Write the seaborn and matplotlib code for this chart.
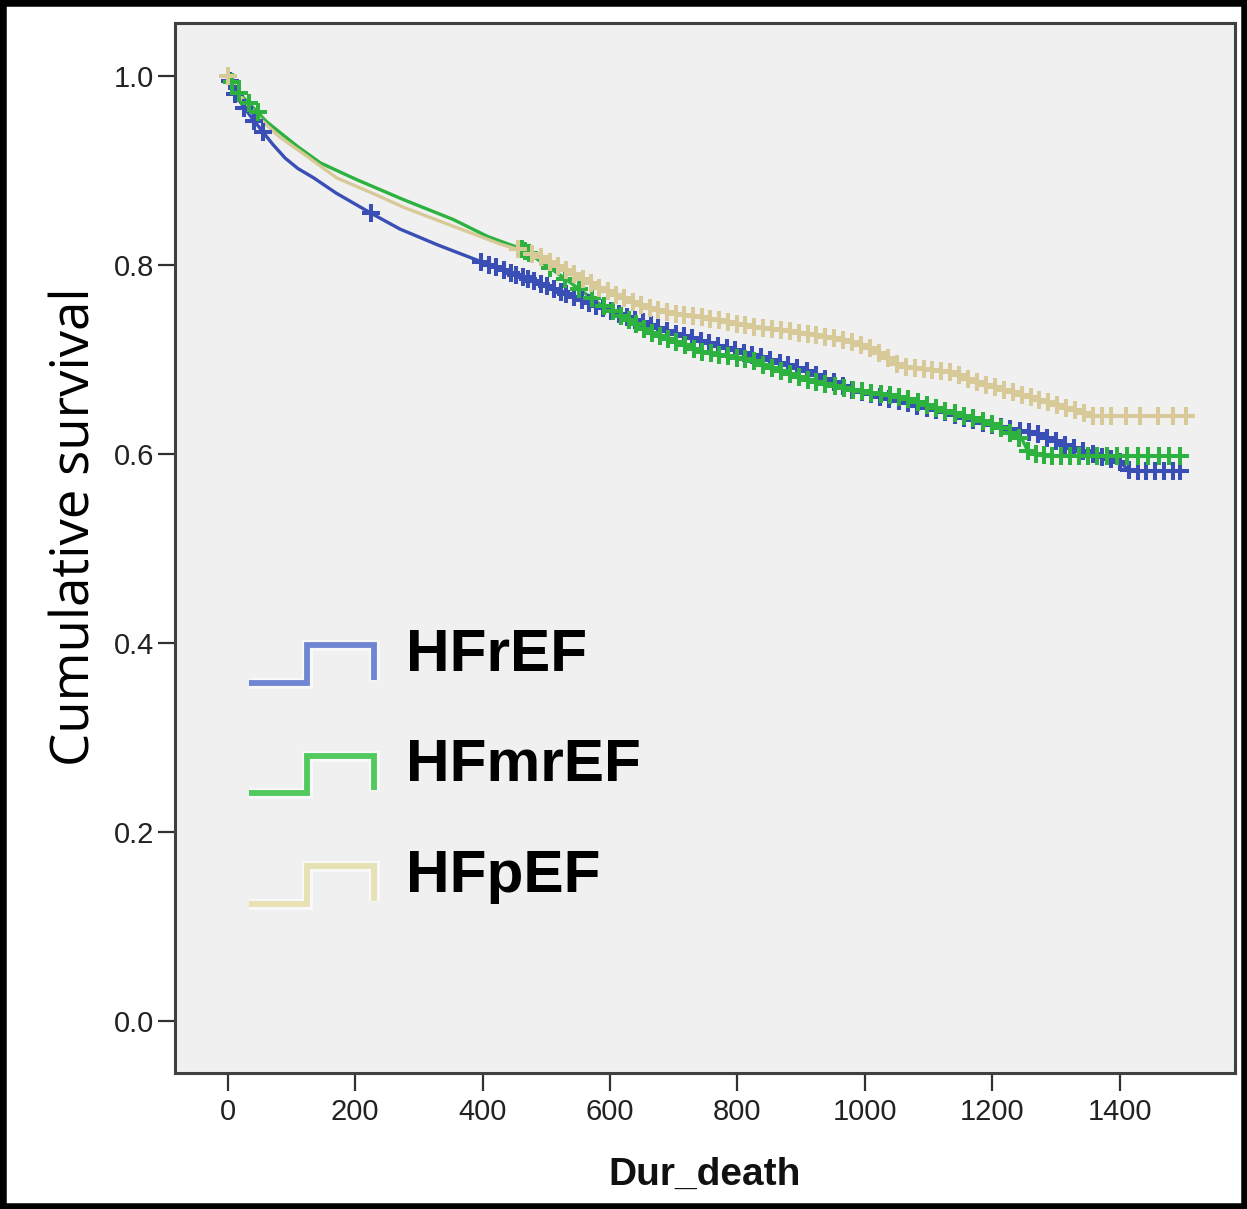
import numpy as np
import pandas as pd
import matplotlib
matplotlib.use("Agg")
import matplotlib.pyplot as plt
import seaborn as sns
from matplotlib.legend_handler import HandlerBase
from matplotlib.lines import Line2D
from matplotlib.patches import Rectangle
import matplotlib.patheffects as pe

# ---------------- data ----------------
groups = ["HFrEF", "HFmrEF", "HFpEF"]

hfref_time = [0, 8, 20, 35, 50, 70, 90, 110, 135, 170, 224, 270, 330, 380, 430, 480, 530,
              585, 640, 700, 760, 822, 900, 979, 1058, 1120, 1200, 1266, 1320, 1372, 1400,
              1415, 1495]
hfref_surv = [1.0, 0.985, 0.972, 0.958, 0.945, 0.928, 0.913, 0.902, 0.892, 0.876, 0.855,
              0.838, 0.821, 0.808, 0.795, 0.783, 0.770, 0.755, 0.742, 0.728, 0.716, 0.705,
              0.690, 0.668, 0.655, 0.645, 0.630, 0.622, 0.608, 0.597, 0.592, 0.582, 0.582]
hfref_censor = [3, 12, 26, 41, 55, 224, 398, 410, 421, 433, 444, 452, 463, 471, 480, 492,
                501, 512, 523, 531, 544, 556, 567, 578, 589, 601, 614, 626, 639, 651, 664,
                676, 689, 703, 716, 729, 742, 755, 769, 783, 796, 810, 823, 837, 851, 866,
                880, 894, 909, 923, 937, 951, 966, 980, 995, 1009, 1024, 1038, 1053, 1068,
                1082, 1097, 1112, 1126, 1141, 1156, 1170, 1185, 1199, 1214, 1228, 1243,
                1257, 1271, 1286, 1300, 1314, 1329, 1343, 1358, 1372, 1386, 1400, 1414,
                1428, 1442, 1456, 1470, 1484, 1494]

hfmref_time = [0, 10, 20, 39, 60, 82, 110, 145, 203, 276, 354, 408, 465, 520, 585, 660,
               743, 822, 900, 979, 1058, 1120, 1200, 1247, 1258, 1300, 1495]
hfmref_surv = [1.0, 0.990, 0.980, 0.967, 0.952, 0.940, 0.925, 0.908, 0.890, 0.869, 0.848,
               0.830, 0.816, 0.790, 0.758, 0.730, 0.708, 0.699, 0.680, 0.668, 0.660, 0.647,
               0.632, 0.615, 0.600, 0.598, 0.598]
hfmref_censor = [6, 18, 33, 47, 462, 467, 473, 505, 530, 552, 571, 590, 604, 617, 629, 641,
                 653, 666, 679, 691, 704, 717, 731, 744, 758, 771, 785, 799, 812, 826, 840,
                 854, 868, 882, 896, 910, 924, 938, 953, 967, 981, 996, 1010, 1025, 1039,
                 1054, 1068, 1083, 1097, 1112, 1126, 1141, 1156, 1170, 1185, 1199, 1214,
                 1228, 1242, 1256, 1268, 1281, 1294, 1308, 1322, 1336, 1350, 1365, 1380,
                 1396, 1412, 1428, 1445, 1462, 1478, 1494]

hfpef_time = [0, 20, 50, 80, 118, 171, 230, 276, 330, 381, 428, 486, 540, 585, 650, 700,
              743, 822, 900, 960, 1006, 1040, 1058, 1137, 1180, 1216, 1294, 1357, 1504]
hfpef_surv = [1.0, 0.978, 0.955, 0.936, 0.918, 0.892, 0.875, 0.861, 0.847, 0.834, 0.822,
              0.810, 0.792, 0.775, 0.757, 0.748, 0.745, 0.735, 0.728, 0.722, 0.713, 0.700,
              0.692, 0.686, 0.675, 0.668, 0.654, 0.640, 0.640]
hfpef_censor = [0, 455, 478, 492, 506, 519, 531, 544, 557, 570, 583, 596, 609, 622, 636,
                649, 662, 676, 689, 703, 716, 730, 744, 757, 771, 785, 799, 812, 826, 840,
                854, 868, 882, 896, 910, 924, 938, 952, 966, 980, 994, 1008, 1022, 1036,
                1050, 1064, 1078, 1092, 1106, 1120, 1134, 1148, 1162, 1176, 1190, 1204,
                1218, 1232, 1246, 1260, 1274, 1288, 1302, 1316, 1330, 1344, 1358, 1372,
                1386, 1410, 1432, 1460, 1484, 1504]

x_ticks = [0, 200, 400, 600, 800, 1000, 1200, 1400]
y_ticks = [0.0, 0.2, 0.4, 0.6, 0.8, 1.0]

series = {
    "HFrEF": (hfref_time, hfref_surv, hfref_censor),
    "HFmrEF": (hfmref_time, hfmref_surv, hfmref_censor),
    "HFpEF": (hfpef_time, hfpef_surv, hfpef_censor),
}

colors = {"HFrEF": "#3a4fb5", "HFmrEF": "#2db23f", "HFpEF": "#d8ca98"}
legend_colors = {"HFrEF": "#7086d2", "HFmrEF": "#52c95f", "HFpEF": "#e6e2b4"}

# ---------------- style ----------------
sns.set_theme(style="white")
plt.rcParams["font.family"] = ["Liberation Sans", "DejaVu Sans"]

fig = plt.figure(figsize=(12.47, 12.09), dpi=100)
ax = fig.add_axes([0.1403, 0.1125, 0.8501, 0.8685])
ax.set_facecolor("#f0f0f0")

for g in groups:
    t, s, c = series[g]
    line_df = pd.DataFrame({"time": t, "surv": s})
    sns.lineplot(data=line_df, x="time", y="surv", color=colors[g], linewidth=2.4,
                 estimator=None, sort=False, ax=ax, zorder=2)
    cens_df = pd.DataFrame({"time": c, "surv": np.interp(c, t, s)})
    sns.scatterplot(data=cens_df, x="time", y="surv", color=colors[g], marker="+",
                    s=180, linewidth=2.9, ax=ax, zorder=3)

ax.set_xlim(-83, 1581)
ax.set_ylim(-0.055, 1.056)
ax.set_xticks(x_ticks)
ax.set_xticklabels([str(v) for v in x_ticks])
ax.set_yticks(y_ticks)
ax.set_yticklabels([f"{v:.1f}" for v in y_ticks])

ax.tick_params(axis="x", length=13, width=1.6, pad=5, labelsize=21,
               colors="#303030", labelcolor="#222222", direction="out", bottom=True)
ax.tick_params(axis="y", length=12, width=1.6, pad=3, labelsize=21,
               colors="#303030", labelcolor="#222222", direction="out", left=True)

for sp in ax.spines.values():
    sp.set_visible(True)
    sp.set_color("#404040")
    sp.set_linewidth(2.2)

ax.set_xlabel("Dur_death", fontsize=28, fontweight="bold", labelpad=22, color="#111111")
ax.set_ylabel("Cumulative survival", fontsize=38, family=["Open Sans", "DejaVu Sans"],
              color="#000000")
ax.yaxis.set_label_coords(-0.068, 0.52)


# ---------------- legend with step glyphs ----------------
class StepHandler(HandlerBase):
    def create_artists(self, legend, orig_handle, xdescent, ydescent, width, height,
                       fontsize, trans):
        x0 = -xdescent
        y0 = -ydescent - 0.38 * height
        xm = x0 + 0.46 * width
        xs = [x0, xm, xm, x0 + width, x0 + width]
        ys = [y0, y0, y0 + height, y0 + height, y0 + 0.08 * height]
        ln = Line2D(xs, ys, color=orig_handle.get_color(), lw=4.2,
                    solid_joinstyle="miter", solid_capstyle="butt", transform=trans)
        ln.set_path_effects([pe.Stroke(linewidth=8, foreground="white", alpha=0.6),
                             pe.Normal()])
        return [ln]


handles = [Line2D([], [], color=legend_colors[g]) for g in groups]
leg = ax.legend(handles, groups, handler_map={Line2D: StepHandler()}, loc="upper left",
                bbox_to_anchor=(0.07, 0.424), frameon=False,
                prop={"weight": "bold", "size": 43.5}, handlelength=2.07, handleheight=0.58,
                handletextpad=0.53, labelspacing=0.92, borderpad=0, borderaxespad=0)
for txt in leg.get_texts():
    txt.set_color("black")

# outer black frame
fig.patches.append(Rectangle((0, 0), 1, 1, transform=fig.transFigure, fill=False,
                             edgecolor="black", linewidth=9, zorder=10))

fig.savefig("out.png", dpi=100, facecolor="white")
